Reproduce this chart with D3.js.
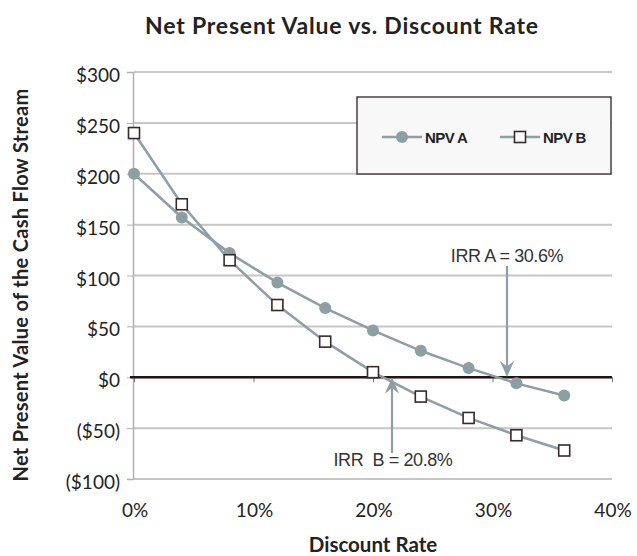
<!DOCTYPE html>
<html><head><meta charset="utf-8">
<script src="https://cdn.jsdelivr.net/npm/d3@7"></script>
<style>body{margin:0;background:#fff}svg{display:block}</style>
</head><body><div id="chart"></div>
<script>
const rates = [0, 4, 8, 12, 16, 20, 24, 28, 32, 36];
const npvA = [200, 157, 122, 93, 68, 46, 26, 9, -6, -18];
const npvB = [240, 170, 115, 71, 35, 5, -19, -40, -57, -72];
const yTicks = [-100, -50, 0, 50, 100, 150, 200, 250, 300];
const xTicks = [0, 10, 20, 30, 40];
const seriesNames = ["NPV A", "NPV B"];
const irrA = 30.6, irrB = 20.8;

const W = 637, H = 556;
const svg = d3.select("#chart").append("svg").attr("width", W).attr("height", H);
const x = d3.scaleLinear().domain([0, 40]).range([134, 612]);
const y = d3.scaleLinear().domain([-100, 300]).range([479, 72]);
const font = "Lato, 'Open Sans', sans-serif";
const arial = "'Liberation Sans', Arial, sans-serif";
const lineCol = "#8e9fa4";

// gridlines
svg.append("g").selectAll("line").data(yTicks).join("line")
  .attr("x1", x(0)).attr("x2", x(40)).attr("y1", d => y(d)).attr("y2", d => y(d))
  .attr("stroke", "#c6c6c6").attr("stroke-width", 2);

// y axis
const yAxis = d3.axisLeft(y).tickValues(yTicks).tickSize(6).tickPadding(7)
  .tickFormat(d => d < 0 ? "($" + Math.abs(d) + ")" : "$" + d);
const gy = svg.append("g").attr("transform", `translate(${x(0) - 1},0)`).call(yAxis);
gy.select(".domain").attr("stroke", "#b0b0b0").attr("stroke-width", 1.5);
gy.selectAll(".tick line").attr("stroke", "#b0b0b0");
gy.selectAll("text").attr("font-family", font).attr("font-size", 19).attr("fill", "#222")
  .attr("dy", "0.5em");

// x axis at zero
const xAxis = d3.axisBottom(x).tickValues(xTicks).tickSize(5).tickFormat("");
const gx = svg.append("g").attr("transform", `translate(0,${y(0)})`).call(xAxis);
gx.select(".domain").remove();
gx.selectAll(".tick line").attr("stroke", "#777");
svg.append("line").attr("x1", x(0) - 4).attr("x2", x(40)).attr("y1", y(0)).attr("y2", y(0))
  .attr("stroke", "#231515").attr("stroke-width", 2.5);

// x tick labels at bottom
svg.append("g").selectAll("text").data(xTicks).join("text")
  .attr("x", d => x(d) + 1).attr("y", 517).attr("text-anchor", "middle")
  .attr("font-family", font).attr("font-size", 19).attr("fill", "#222")
  .text(d => d + "%");

// lines
const line = d3.line().x((d, i) => x(rates[i])).y(d => y(d));
svg.append("path").datum(npvA).attr("d", line).attr("fill", "none").attr("stroke", lineCol).attr("stroke-width", 2.5);
svg.append("path").datum(npvB).attr("d", line).attr("fill", "none").attr("stroke", lineCol).attr("stroke-width", 2.5);

// markers
svg.append("g").selectAll("circle").data(npvA).join("circle")
  .attr("cx", (d, i) => x(rates[i])).attr("cy", d => y(d)).attr("r", 6).attr("fill", lineCol);
svg.append("g").selectAll("rect").data(npvB).join("rect")
  .attr("x", (d, i) => x(rates[i]) - 5.5).attr("y", d => y(d) - 5.5).attr("width", 11).attr("height", 11)
  .attr("fill", "#fff").attr("stroke", "#3a2a2a").attr("stroke-width", 1.6);

// legend
const lg = svg.append("g");
lg.append("rect").attr("x", 357).attr("y", 97).attr("width", 254).attr("height", 77)
  .attr("fill", "#f8f8f8").attr("stroke", "#4a4040").attr("stroke-width", 1.5);
const ly = 137;
lg.append("line").attr("x1", 382).attr("x2", 422).attr("y1", ly).attr("y2", ly).attr("stroke", lineCol).attr("stroke-width", 2.5);
lg.append("circle").attr("cx", 402).attr("cy", ly).attr("r", 6).attr("fill", lineCol);
lg.append("text").attr("x", 425).attr("y", ly + 6).attr("font-family", arial)
  .attr("font-weight", "bold").attr("font-size", 15).attr("letter-spacing", -0.6).attr("fill", "#222").text(seriesNames[0]);
lg.append("line").attr("x1", 500).attr("x2", 540).attr("y1", ly).attr("y2", ly).attr("stroke", lineCol).attr("stroke-width", 2.5);
lg.append("rect").attr("x", 514.5).attr("y", ly - 5.5).attr("width", 11).attr("height", 11)
  .attr("fill", "#fff").attr("stroke", "#3a2a2a").attr("stroke-width", 1.6);
lg.append("text").attr("x", 543).attr("y", ly + 6).attr("font-family", arial)
  .attr("font-weight", "bold").attr("font-size", 15).attr("letter-spacing", -0.6).attr("fill", "#222").text(seriesNames[1]);

// annotations
const defs = svg.append("defs");
defs.append("marker").attr("id", "arr").attr("viewBox", "0 0 10 10").attr("refX", 9).attr("refY", 5)
  .attr("orient", "auto").attr("markerUnits", "userSpaceOnUse")
  .attr("markerWidth", 16).attr("markerHeight", 16)
  .append("path").attr("d", "M0,0.5 L10,5 L0,9.5 L3.5,5 Z").attr("fill", lineCol);
const axA = 507, axB = 392;
svg.append("line").attr("x1", axA).attr("x2", axA).attr("y1", 266).attr("y2", y(0) - 2)
  .attr("stroke", lineCol).attr("stroke-width", 2.2).attr("marker-end", "url(#arr)");
svg.append("text").attr("x", axA).attr("y", 262).attr("text-anchor", "middle")
  .attr("font-family", arial).attr("font-size", 18).attr("letter-spacing", -0.4).attr("fill", "#333")
  .text("IRR A = " + irrA + "%");
svg.append("line").attr("x1", axB).attr("x2", axB).attr("y1", 453).attr("y2", y(0) + 2)
  .attr("stroke", lineCol).attr("stroke-width", 2.2).attr("marker-end", "url(#arr)");
svg.append("text").attr("x", 393).attr("y", 466).attr("text-anchor", "middle")
  .attr("font-family", arial).attr("font-size", 18).attr("letter-spacing", -0.4).attr("fill", "#333")
  .style("white-space", "pre")
  .text("IRR  B = " + irrB + "%");

// titles
svg.append("text").attr("x", 342).attr("y", 34).attr("text-anchor", "middle")
  .attr("font-family", font).attr("font-weight", "bold").attr("font-size", 23).attr("letter-spacing", 0.8).attr("fill", "#222")
  .text("Net Present Value vs. Discount Rate");
svg.append("text").attr("x", 373).attr("y", 552).attr("text-anchor", "middle")
  .attr("font-family", font).attr("font-weight", "bold").attr("font-size", 20.5).attr("fill", "#222")
  .text("Discount Rate");
svg.append("text").attr("transform", "translate(28,285) rotate(-90)").attr("text-anchor", "middle")
  .attr("font-family", font).attr("font-weight", "bold").attr("font-size", 20).attr("letter-spacing", 0.3).attr("fill", "#222")
  .text("Net Present Value of the Cash Flow Stream");
</script></body></html>
